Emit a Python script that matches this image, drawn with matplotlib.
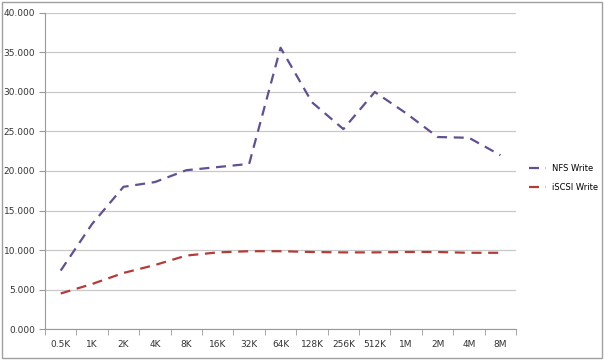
import numpy as np
import matplotlib.pyplot as plt
from matplotlib.patches import Rectangle

# block sizes and throughput readings
sizes = ['0.5K', '1K', '2K', '4K', '8K', '16K', '32K', '64K',
         '128K', '256K', '512K', '1M', '2M', '4M', '8M']
nfs_write = [7.4, 13.3, 18.0, 18.6, 20.1, 20.5, 20.9, 35.6,
             28.7, 25.3, 30.0, 27.3, 24.3, 24.2, 22.0]
iscsi_write = [4.5, 5.7, 7.1, 8.1, 9.3, 9.7, 9.85, 9.85,
               9.75, 9.7, 9.7, 9.75, 9.75, 9.65, 9.65]

fig = plt.figure(figsize=(6.04, 3.6), dpi=100)
fig.patches.append(Rectangle((0.004, 0.006), 0.992, 0.988, transform=fig.transFigure,
                             fill=False, edgecolor='#a0a0a0', linewidth=1.0))
ax = fig.add_axes([0.0745, 0.086, 0.78, 0.878])

x = np.arange(len(sizes))
ax.plot(x, nfs_write, color='#62508f', linestyle=(0, (4.5, 3)), linewidth=1.6, label='NFS Write')
ax.plot(x, iscsi_write, color='#b23c3a', linestyle=(0, (4.5, 3)), linewidth=1.6, label='iSCSI Write')

ax.set_xlim(-0.5, len(sizes) - 0.5)
ax.set_ylim(0, 40)
ax.set_yticks(np.arange(0, 41, 5))
ax.set_yticklabels(['%.3f' % v for v in np.arange(0, 41, 5)])
ax.set_xticks(x)
ax.set_xticklabels(sizes)
ax.set_xticks(np.arange(-0.5, len(sizes)), minor=True)
ax.tick_params(axis='x', which='major', length=0, pad=8, labelsize=6.5, labelcolor='#333333')
ax.tick_params(axis='x', which='minor', length=4, color='#999999')
ax.tick_params(axis='y', length=4, color='#999999', labelsize=6.5, labelcolor='#333333', pad=3)

ax.grid(axis='y', color='#c8c8c8', linewidth=0.9)
ax.set_axisbelow(True)
for s in ['top', 'right']:
    ax.spines[s].set_visible(False)
ax.spines['left'].set_color('#999999')
ax.spines['bottom'].set_color('#999999')

fig.legend(loc='upper left', bbox_to_anchor=(0.876, 0.545), frameon=False,
           fontsize=6, handlelength=2.0, handletextpad=0.7, labelspacing=1.2,
           borderpad=0, borderaxespad=0)

fig.savefig('out.png', dpi=100)
